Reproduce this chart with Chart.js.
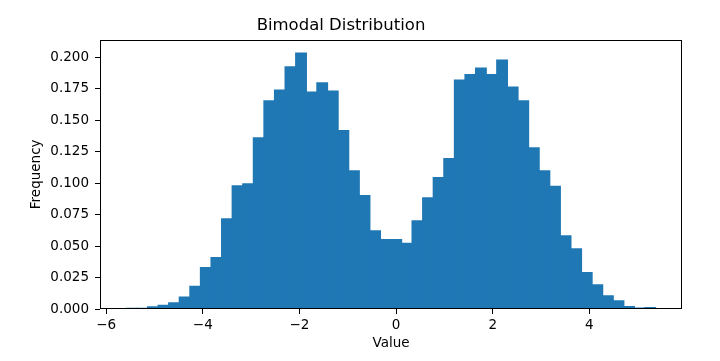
<!DOCTYPE html>
<html>
<head>
<meta charset="utf-8">
<script src="https://cdn.jsdelivr.net/npm/chart.js@4/dist/chart.umd.min.js"></script>
<style>
  html, body { margin: 0; padding: 0; background: #ffffff; }
  #wrap { width: 720px; height: 361px; position: relative; }
</style>
</head>
<body>
<div id="wrap"><canvas id="c" width="720" height="361"></canvas></div>
<script>
// Bin centres (histogram, 50 bins)
const binCenters = [
  -5.471, -5.252, -5.033, -4.814, -4.595, -4.376, -4.157, -3.938, -3.719, -3.500,
  -3.281, -3.062, -2.843, -2.624, -2.405, -2.186, -1.967, -1.748, -1.529, -1.310,
  -1.091, -0.872, -0.653, -0.434, -0.215, 0.004, 0.223, 0.442, 0.661, 0.880,
  1.099, 1.318, 1.537, 1.756, 1.975, 2.194, 2.413, 2.632, 2.851, 3.070,
  3.289, 3.508, 3.727, 3.946, 4.165, 4.384, 4.603, 4.822, 5.041, 5.260
];
// Frequencies (density) per bin
const frequencies = [
  0.0009, 0.0010, 0.0022, 0.0033, 0.0054, 0.0100, 0.0185, 0.0333, 0.0413, 0.0722,
  0.0984, 0.1000, 0.1365, 0.1659, 0.1746, 0.1931, 0.2040, 0.1730, 0.1802, 0.1738,
  0.1423, 0.1103, 0.0907, 0.0627, 0.0556, 0.0556, 0.0526, 0.0706, 0.0889, 0.1050,
  0.1201, 0.1825, 0.1868, 0.1921, 0.1868, 0.1984, 0.1770, 0.1659, 0.1286, 0.1103,
  0.0979, 0.0587, 0.0484, 0.0294, 0.0196, 0.0110, 0.0070, 0.0024, 0.0011, 0.0016
];
const xTicks = [-6, -4, -2, 0, 2, 4];
const yTicks = [0, 0.025, 0.05, 0.075, 0.1, 0.125, 0.15, 0.175, 0.2];
const titleText = 'Bimodal Distribution';
const xLabel = 'Value';
const yLabel = 'Frequency';

const FONT = "'DejaVu Sans', sans-serif";
Chart.defaults.font.family = FONT;
Chart.defaults.color = '#000000';

const framePlugin = {
  id: 'frame',
  afterDatasetsDraw(chart) {
    const {ctx, chartArea: a} = chart;
    const l = Math.round(a.left) + 0.5, r = Math.round(a.right) - 0.5;
    const t = Math.round(a.top) + 0.5, b = Math.round(a.bottom) - 0.5;
    ctx.save();
    ctx.strokeStyle = '#000000';
    ctx.lineWidth = 1;
    ctx.strokeRect(l, t, r - l, b - t);
    ctx.restore();
  }
};

new Chart(document.getElementById('c'), {
  type: 'bar',
  data: {
    datasets: [{
      data: binCenters.map((x, i) => ({x: x, y: frequencies[i]})),
      backgroundColor: '#1f77b4',
      borderColor: '#1f77b4',
      borderWidth: 0,
      inflateAmount: 0,
      barPercentage: 1.12,
      categoryPercentage: 1.0
    }]
  },
  options: {
    responsive: false,
    animation: false,
    devicePixelRatio: 1,
    layout: { padding: { left: 0, right: 38, top: 0, bottom: 0 } },
    plugins: {
      legend: { display: false },
      tooltip: { enabled: false },
      title: {
        display: true,
        text: titleText,
        color: '#000000',
        font: { family: FONT, size: 16.5, weight: 'normal', lineHeight: 1.2 },
        padding: { top: 15.4, bottom: 4.4 }
      }
    },
    scales: {
      x: {
        type: 'linear',
        offset: false,
        min: -6.1275,
        max: 5.9175,
        afterBuildTicks(scale) { scale.ticks = xTicks.map(v => ({value: v})); },
        afterFit(scale) { scale.height = 52; },
        grid: { display: true, drawOnChartArea: false, drawTicks: true, tickLength: 5, color: '#000000', lineWidth: 1, offset: false },
        border: { display: false },
        ticks: {
          color: '#000000',
          padding: 3,
          maxRotation: 0,
          autoSkip: false,
          font: { family: FONT, size: 13.5 },
          callback: (v) => String(v).replace('-', '\u2212')
        },
        title: {
          display: true,
          text: xLabel,
          color: '#000000',
          font: { family: FONT, size: 13.5 },
          padding: { top: 0, bottom: 9.1 }
        }
      },
      y: {
        type: 'linear',
        min: 0,
        max: 0.2142,
        afterBuildTicks(scale) { scale.ticks = yTicks.map(v => ({value: v})); },
        afterFit(scale) { scale.width = 100; },
        grid: { display: true, drawOnChartArea: false, drawTicks: true, tickLength: 5, color: '#000000', lineWidth: 1 },
        border: { display: false },
        ticks: {
          color: '#000000',
          padding: 6,
          autoSkip: false,
          font: { family: FONT, size: 13.5 },
          callback: (v) => Number(v).toFixed(3)
        },
        title: {
          display: true,
          text: yLabel,
          color: '#000000',
          font: { family: FONT, size: 13.5 },
          padding: { top: 28.4, bottom: 0 }
        }
      }
    }
  },
  plugins: [framePlugin]
});
</script>
</body>
</html>
